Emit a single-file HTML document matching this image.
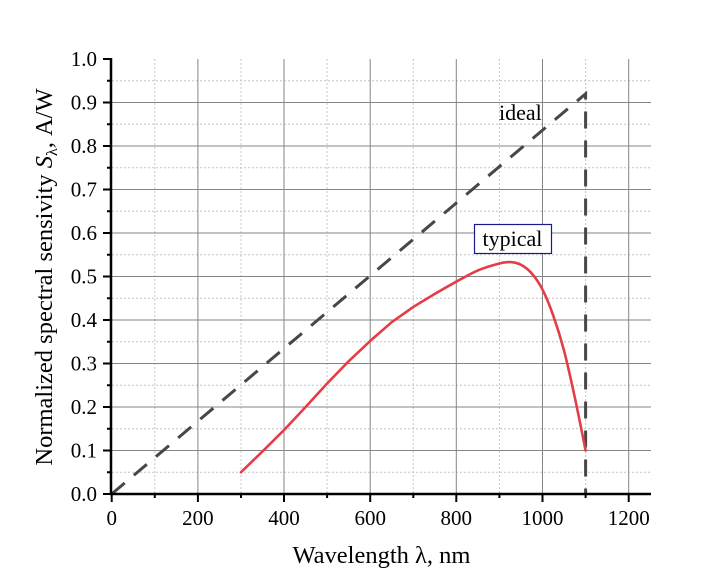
<!DOCTYPE html>
<html><head><meta charset="utf-8"><style>
html,body{margin:0;padding:0;background:#fff;}
svg{display:block;}
text{font-family:"Liberation Serif",serif;fill:#000;}
</style></head><body>
<svg width="703" height="582" viewBox="0 0 703 582" xmlns="http://www.w3.org/2000/svg">
<rect width="703" height="582" fill="#fff"/>
<!-- minor grid -->
<g stroke="#c4c4c4" stroke-width="1" stroke-dasharray="2 2" fill="none">
<line x1="154.8" y1="59" x2="154.8" y2="494"/>
<line x1="241" y1="59" x2="241" y2="494"/>
<line x1="327.1" y1="59" x2="327.1" y2="494"/>
<line x1="413.3" y1="59" x2="413.3" y2="494"/>
<line x1="499.4" y1="59" x2="499.4" y2="494"/>
<line x1="585.6" y1="59" x2="585.6" y2="494"/>
<line x1="112" y1="472.25" x2="651" y2="472.25"/>
<line x1="112" y1="428.75" x2="651" y2="428.75"/>
<line x1="112" y1="385.25" x2="651" y2="385.25"/>
<line x1="112" y1="341.75" x2="651" y2="341.75"/>
<line x1="112" y1="298.25" x2="651" y2="298.25"/>
<line x1="112" y1="254.75" x2="651" y2="254.75"/>
<line x1="112" y1="211.25" x2="651" y2="211.25"/>
<line x1="112" y1="167.75" x2="651" y2="167.75"/>
<line x1="112" y1="124.25" x2="651" y2="124.25"/>
<line x1="112" y1="80.75" x2="651" y2="80.75"/>
</g>
<!-- major grid -->
<g stroke="#858585" stroke-width="1" fill="none">
<line x1="197.9" y1="59" x2="197.9" y2="494"/>
<line x1="284" y1="59" x2="284" y2="494"/>
<line x1="370.2" y1="59" x2="370.2" y2="494"/>
<line x1="456.3" y1="59" x2="456.3" y2="494"/>
<line x1="542.5" y1="59" x2="542.5" y2="494"/>
<line x1="628.7" y1="59" x2="628.7" y2="494"/>
<line x1="112" y1="450.5" x2="651" y2="450.5"/>
<line x1="112" y1="407" x2="651" y2="407"/>
<line x1="112" y1="363.5" x2="651" y2="363.5"/>
<line x1="112" y1="320" x2="651" y2="320"/>
<line x1="112" y1="276.5" x2="651" y2="276.5"/>
<line x1="112" y1="233" x2="651" y2="233"/>
<line x1="112" y1="189.5" x2="651" y2="189.5"/>
<line x1="112" y1="146" x2="651" y2="146"/>
<line x1="112" y1="102.5" x2="651" y2="102.5"/>
</g>
<!-- ideal -->
<polyline points="111.7,494 585.6,93.8 585.6,494" fill="none" stroke="#474747" stroke-width="3" stroke-dasharray="17 12"/>
<!-- typical -->
<path d="M240.9,472.3 L262.5,451.4 L284,430.1 L305.6,407 L327.1,383.5 L348.6,361.3 L370.2,340.9 L391.7,322.2 L413.3,306.95 L434.8,293.9
C441.97,289.69 449.12,285.62 456.3,281.7
C463.48,277.78 470.72,273.44 477.9,270.4
C485.08,267.36 494.02,264.83 499.4,263.45
C504.78,262.07 506.6,261.88 510.2,262.1
C513.8,262.33 517.42,262.92 521,264.8
C524.58,266.68 528.12,269.28 531.7,273.4
C535.28,277.53 538.9,282.51 542.5,289.55
C546.1,296.59 549.72,305.5 553.3,315.65
C556.88,325.8 560.42,336.82 564,350.45
C567.58,364.08 571.2,380.72 574.8,397.4
C578.4,414.08 583.8,441.65 585.6,450.5" fill="none" stroke="#e33d48" stroke-width="2.6" stroke-linejoin="round" stroke-linecap="round"/>
<!-- axes -->
<g stroke="#000" fill="none">
<line x1="111" y1="58" x2="111" y2="495" stroke-width="2.5"/>
<line x1="110" y1="494" x2="651" y2="494" stroke-width="2.5"/>
<g stroke-width="2">
<line x1="103" y1="59" x2="111" y2="59"/>
<line x1="103" y1="102.5" x2="111" y2="102.5"/>
<line x1="103" y1="146" x2="111" y2="146"/>
<line x1="103" y1="189.5" x2="111" y2="189.5"/>
<line x1="103" y1="233" x2="111" y2="233"/>
<line x1="103" y1="276.5" x2="111" y2="276.5"/>
<line x1="103" y1="320" x2="111" y2="320"/>
<line x1="103" y1="363.5" x2="111" y2="363.5"/>
<line x1="103" y1="407" x2="111" y2="407"/>
<line x1="103" y1="450.5" x2="111" y2="450.5"/>
<line x1="103" y1="494" x2="111" y2="494"/>
<line x1="107" y1="80.75" x2="111" y2="80.75"/>
<line x1="107" y1="124.25" x2="111" y2="124.25"/>
<line x1="107" y1="167.75" x2="111" y2="167.75"/>
<line x1="107" y1="211.25" x2="111" y2="211.25"/>
<line x1="107" y1="254.75" x2="111" y2="254.75"/>
<line x1="107" y1="298.25" x2="111" y2="298.25"/>
<line x1="107" y1="341.75" x2="111" y2="341.75"/>
<line x1="107" y1="385.25" x2="111" y2="385.25"/>
<line x1="107" y1="428.75" x2="111" y2="428.75"/>
<line x1="107" y1="472.25" x2="111" y2="472.25"/>
<line x1="111.7" y1="494" x2="111.7" y2="502"/>
<line x1="197.9" y1="494" x2="197.9" y2="502"/>
<line x1="284" y1="494" x2="284" y2="502"/>
<line x1="370.2" y1="494" x2="370.2" y2="502"/>
<line x1="456.3" y1="494" x2="456.3" y2="502"/>
<line x1="542.5" y1="494" x2="542.5" y2="502"/>
<line x1="628.7" y1="494" x2="628.7" y2="502"/>
<line x1="154.8" y1="494" x2="154.8" y2="498"/>
<line x1="241" y1="494" x2="241" y2="498"/>
<line x1="327.1" y1="494" x2="327.1" y2="498"/>
<line x1="413.3" y1="494" x2="413.3" y2="498"/>
<line x1="499.4" y1="494" x2="499.4" y2="498"/>
<line x1="585.6" y1="494" x2="585.6" y2="498"/>
</g>
</g>
<!-- y tick labels -->
<g font-size="21" text-anchor="end">
<text x="97" y="66">1.0</text>
<text x="97" y="109.5">0.9</text>
<text x="97" y="153">0.8</text>
<text x="97" y="196.5">0.7</text>
<text x="97" y="240">0.6</text>
<text x="97" y="283.5">0.5</text>
<text x="97" y="327">0.4</text>
<text x="97" y="370.5">0.3</text>
<text x="97" y="414">0.2</text>
<text x="97" y="457.5">0.1</text>
<text x="97" y="501">0.0</text>
</g>
<!-- x tick labels -->
<g font-size="21" text-anchor="middle">
<text x="111.7" y="525">0</text>
<text x="197.9" y="525">200</text>
<text x="284" y="525">400</text>
<text x="370.2" y="525">600</text>
<text x="456.3" y="525">800</text>
<text x="542.5" y="525">1000</text>
<text x="628.7" y="525">1200</text>
</g>
<!-- axis titles -->
<text x="381.5" y="563" font-size="24.5" text-anchor="middle">Wavelength λ, nm</text>
<text transform="translate(52,277) rotate(-90)" font-size="24.5" text-anchor="middle">Normalized spectral sensivity <tspan font-style="italic">S</tspan><tspan font-size="16" dy="5">λ</tspan><tspan dy="-5">, A/W</tspan></text>
<!-- annotations -->
<text x="499" y="120" font-size="22">ideal</text>
<rect x="474.5" y="224.5" width="77" height="29" fill="#fff" stroke="#1a1a8c" stroke-width="1.2"/>
<text x="482.5" y="246" font-size="22">typical</text>
</svg>
</body></html>
